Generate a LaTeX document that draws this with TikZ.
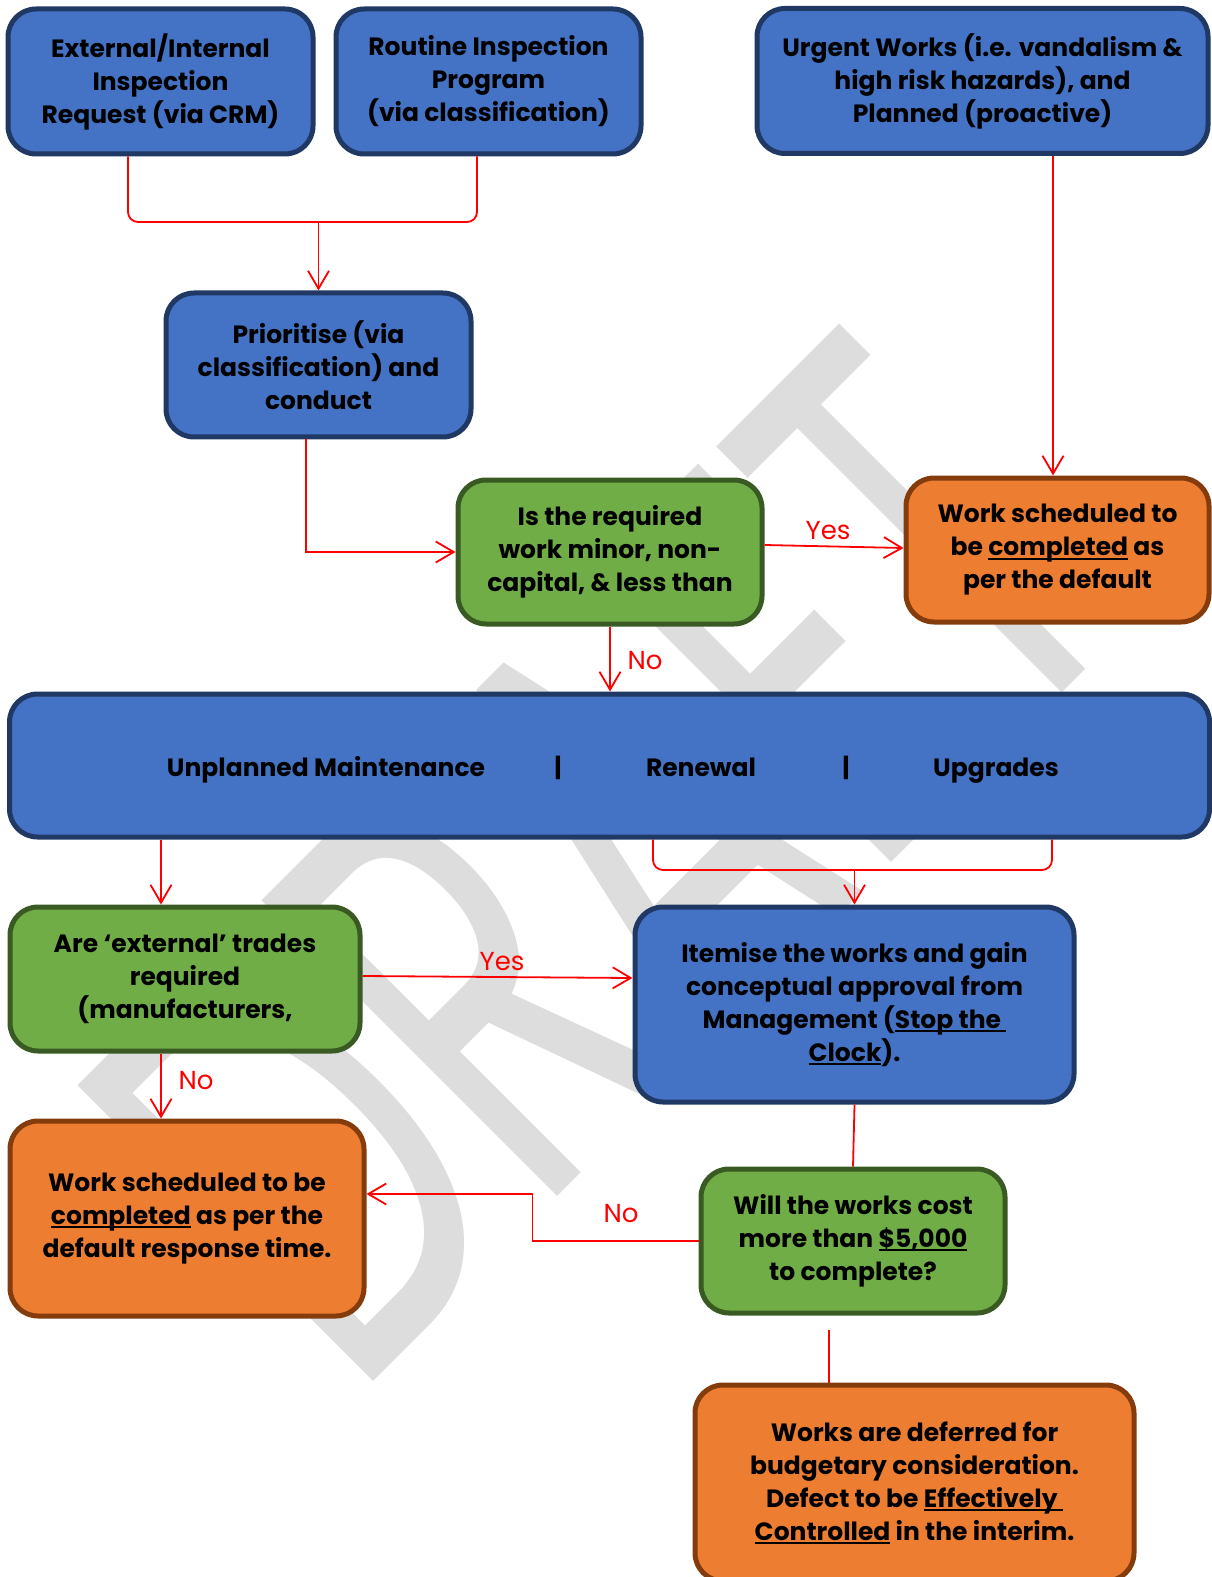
\documentclass[tikz,border=0pt]{standalone}
\usepackage{fontspec}
\setmainfont{Poppins}
\usetikzlibrary{arrows.meta,calc}
\definecolor{bfill}{HTML}{4472C4}
\definecolor{bdraw}{HTML}{203864}
\definecolor{gfill}{HTML}{70AD47}
\definecolor{gdraw}{HTML}{3A5A24}
\definecolor{ofill}{HTML}{ED7D31}
\definecolor{odraw}{HTML}{843C0C}
\definecolor{wm}{HTML}{DDDDDD}
\newsavebox\ulbox
\newcommand\myul[1]{\sbox\ulbox{#1}\rlap{\rule[-0.15em]{\wd\ulbox}{0.08em}}\usebox\ulbox}
\tikzset{
  boxbase/.style={rounded corners=14pt, line width=2.5pt, align=center, inner sep=0pt,
    font=\bfseries\fontsize{12.5pt}{16.5pt}\selectfont, text=black},
  bluebox/.style={boxbase, fill=bfill, draw=bdraw},
  greenbox/.style={boxbase, fill=gfill, draw=gdraw},
  orangebox/.style={boxbase, fill=ofill, draw=odraw},
  bandtext/.style={font=\bfseries\fontsize{12.5pt}{16.5pt}\selectfont, inner sep=0pt, text=black, anchor=base},
  conn/.style={draw=red, line width=0.9pt},
  arr/.style={conn, -{Straight Barb[length=9pt,width=10.5pt,line width=0.9pt]}},
  lab/.style={text=red, font=\fontsize{13pt}{15pt}\selectfont, inner sep=0pt},
  wmtext/.style={text=wm, font=\fontsize{300pt}{300pt}\selectfont, inner sep=0pt}
}
\begin{document}
\begin{tikzpicture}[x=0.5pt,y=-0.5pt]
\useasboundingbox (0,0) rectangle (1211,1577);
\fill[white] (0,0) rectangle (1211,1577);
% watermark
\node[wmtext, rotate=45, xscale=0.614] (wmk) at (601,858) {DRAFT};
% boxes
\node[bluebox, minimum width=152.5pt, minimum height=72.5pt] (A) at (160.5,81.5)
  {External/Internal\\Inspection\\Request (via CRM)};
\node[bluebox, minimum width=152.5pt, minimum height=72.5pt] (B) at (488.5,81.5)
  {Routine Inspection\\Program\\(via classification)};
\node[bluebox, minimum width=225.5pt, minimum height=72.5pt] (C) at (982.5,81)
  {Urgent Works (i.e. vandalism \&\\high risk hazards), and\\Planned (proactive)};
\node[bluebox, minimum width=152.5pt, minimum height=72pt] (D) at (318.5,365)
  {Prioritise (via\\classification) and\\conduct};
\node[greenbox, minimum width=152pt, minimum height=72pt] (E) at (610,552)
  {Is the required\\work minor, non-\\capital, \& less than};
\node[orangebox, minimum width=151.5pt, minimum height=72pt] (F) at (1057.5,550)
  {Work scheduled to\\be \myul{completed} as\\per the default};
\node[bluebox, minimum width=600pt, minimum height=71.5pt] (G) at (609.5,765.5) {};
\node[bandtext] (g1) at (326,776) {Unplanned Maintenance};
\node[bandtext] (g2) at (558,776) {|};
\node[bandtext] (g3) at (701,776) {Renewal};
\node[bandtext] (g4) at (846,776) {|};
\node[bandtext] (g5) at (996,776) {Upgrades};
\node[greenbox, minimum width=175pt, minimum height=72pt] (H) at (185,979)
  {Are ‘external’ trades\\required\\(manufacturers,};
\node[bluebox, minimum width=219.5pt, minimum height=97.5pt] (I) at (854.5,1004.5)
  {Itemise the works and gain\\conceptual approval from\\Management (\myul{Stop the\ }\\\myul{Clock}).};
\node[orangebox, minimum width=177pt, minimum height=97.5pt] (J) at (187,1218.5)
  {Work scheduled to be\\\myul{completed} as per the\\default response time.};
\node[greenbox, minimum width=152pt, minimum height=72pt] (K) at (853,1241)
  {Will the works cost\\more than \myul{\$5,000}\\to complete?};
\node[orangebox, minimum width=219.5pt, minimum height=98pt] (L) at (914.5,1483)
  {Works are deferred for\\budgetary consideration.\\Defect to be \myul{Effectively\ }\\\myul{Controlled} in the interim.};
% junctions
\coordinate (j1) at (318.5,222);
\coordinate (j2) at (854.5,870);
\coordinate (k2) at (829,1330);
% connectors
\draw[conn, rounded corners=5pt] ([xshift=-16.25pt]A.south) |- (j1) -| ([xshift=-5.75pt]B.south);
\draw[arr] (j1) -- (D.north);
\draw[arr] ([xshift=-6.25pt]D.south) |- (E.west);
\draw[arr] ([xshift=35.25pt]C.south) -- ([xshift=35.25pt]C.south |- F.north);
\draw[arr] ([yshift=3.5pt]E.east) -- ([yshift=1pt]F.west);
\draw[arr] (E.south) -- (E.south |- G.north);
\draw[arr] ([xshift=-12pt]H.north |- G.south) -- ([xshift=-12pt]H.north);
\draw[conn, rounded corners=5pt] ([xshift=21.75pt]G.south) |- (j2) -| ([xshift=221.25pt]G.south);
\draw[arr] (j2) -- (I.north);
\draw[arr] ([yshift=1.5pt]H.east) -- ([yshift=13.25pt]I.west);
\draw[arr] ([xshift=-12pt]H.south) -- ([xshift=-12pt]H.south |- J.north);
\draw[conn] (I.south) -- (K.north);
\draw[arr] (K.west) -- ++(-166,0) |- ([yshift=12.25pt]J.east);
\draw[conn] (k2) -- (k2 |- L.north);
% labels
\node[lab] (y1) at (828,531) {Yes};
\node[lab] (n1) at (645,661) {No};
\node[lab] (y2) at (502,962) {Yes};
\node[lab] (n2) at (196,1081) {No};
\node[lab] (n3) at (621,1214) {No};
\end{tikzpicture}
\end{document}
